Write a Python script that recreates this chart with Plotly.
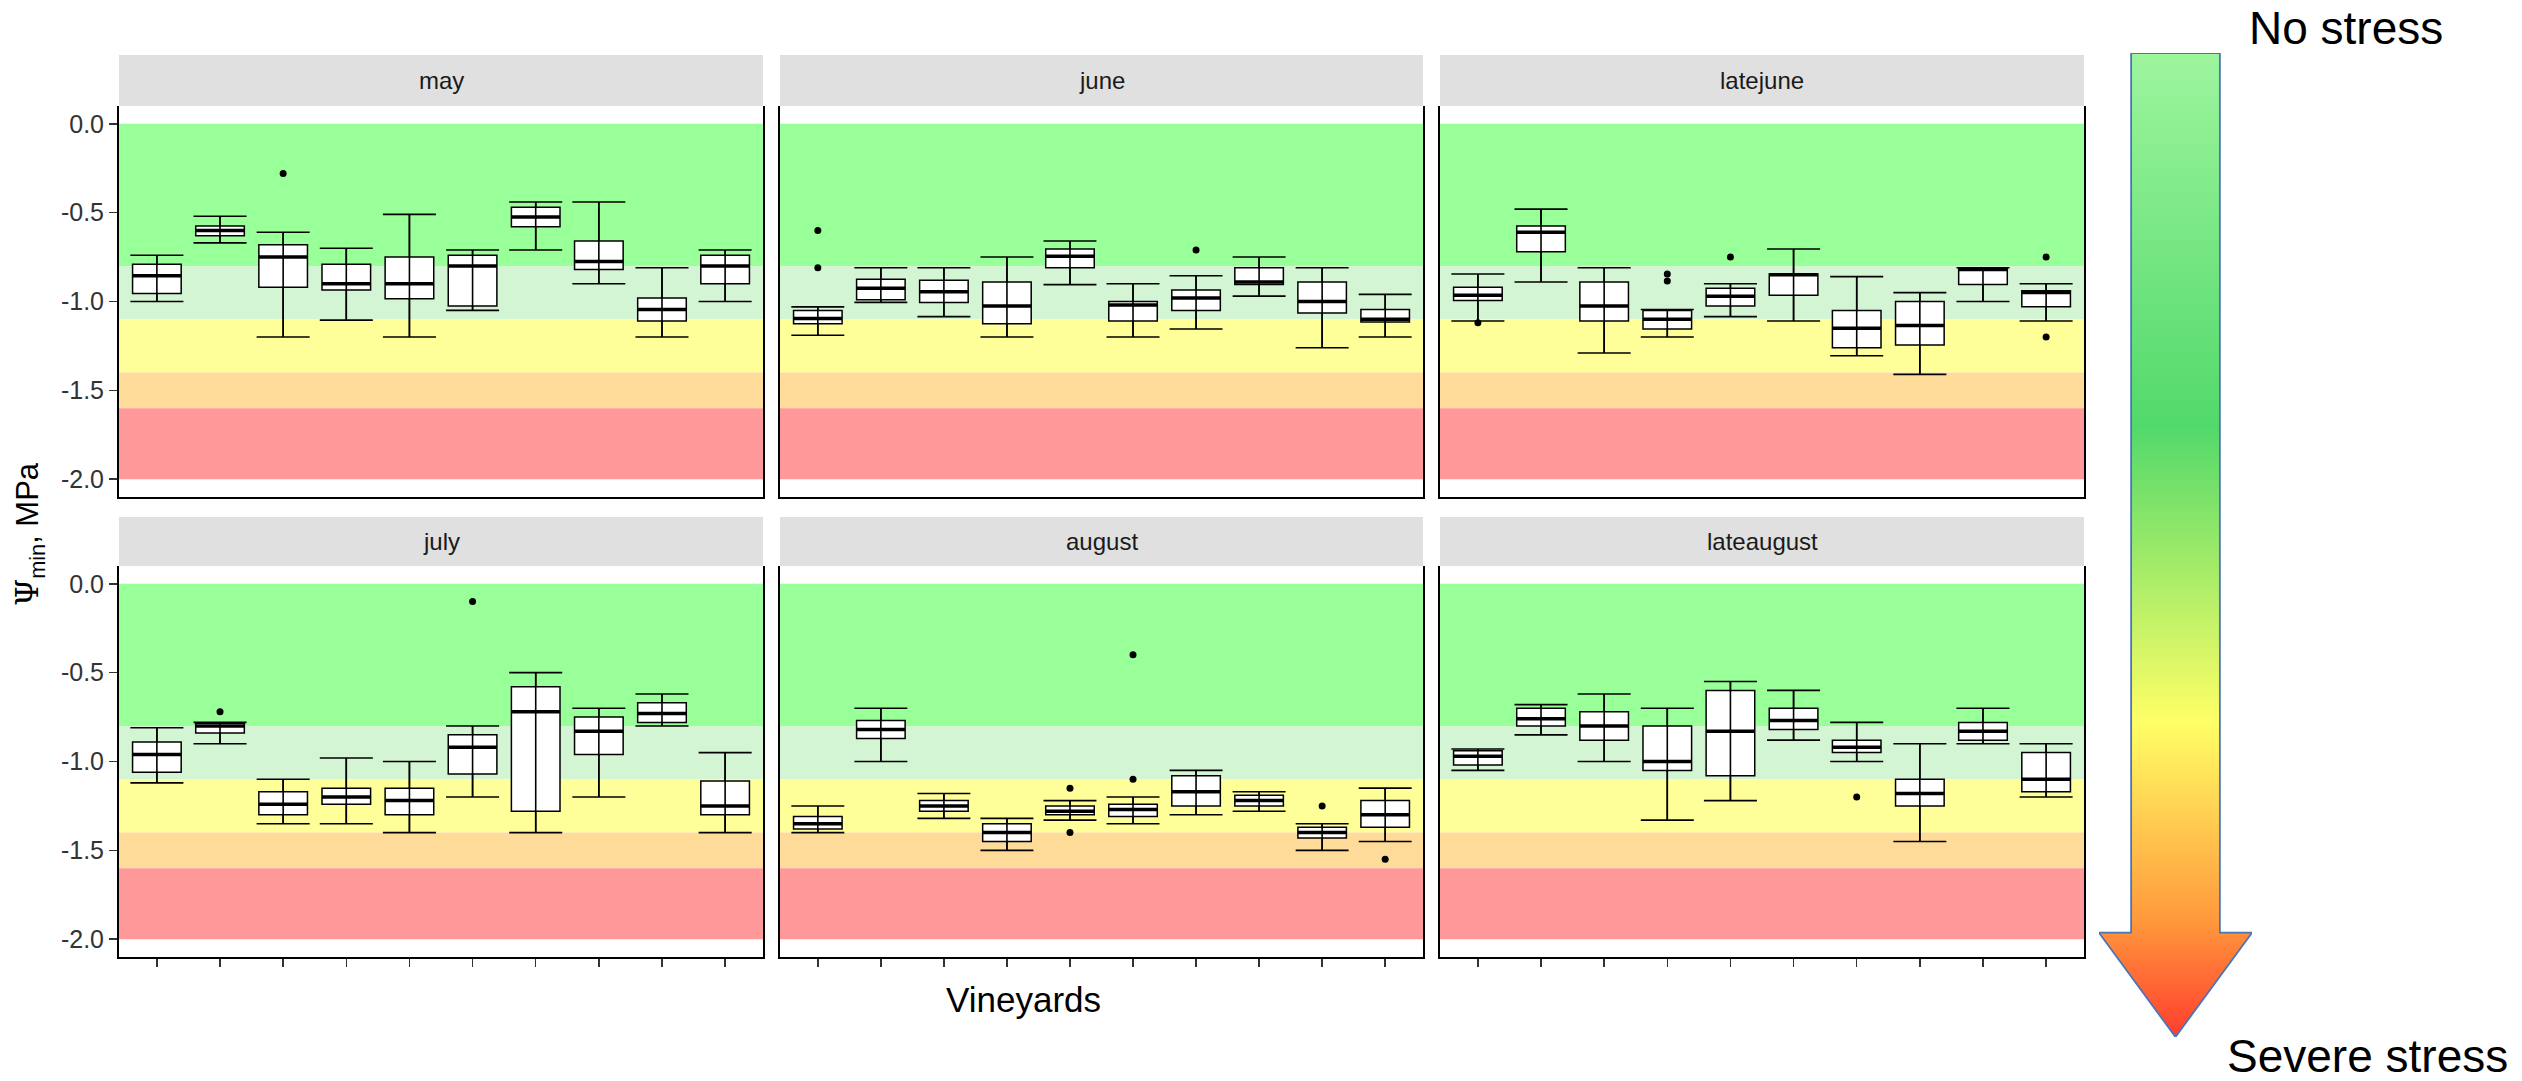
import plotly.graph_objects as go

# ---------------- data ----------------
months = ["may", "june", "latejune", "july", "august", "lateaugust"]
vineyards = list(range(1, 11))

may_upper = [-0.74, -0.52, -0.61, -0.70, -0.51, -0.71, -0.44, -0.44, -0.81, -0.71]
may_q3 = [-0.79, -0.575, -0.68, -0.79, -0.75, -0.74, -0.47, -0.66, -0.98, -0.74]
may_med = [-0.855, -0.60, -0.75, -0.90, -0.90, -0.80, -0.525, -0.775, -1.045, -0.80]
may_q1 = [-0.955, -0.63, -0.92, -0.935, -0.985, -1.025, -0.58, -0.82, -1.11, -0.90]
may_lower = [-1.00, -0.67, -1.20, -1.105, -1.20, -1.05, -0.71, -0.90, -1.20, -1.00]
may_out_x = [3]
may_out_y = [-0.28]

june_upper = [-1.03, -0.81, -0.81, -0.75, -0.66, -0.90, -0.855, -0.75, -0.81, -0.96]
june_q3 = [-1.05, -0.875, -0.88, -0.89, -0.705, -1.00, -0.935, -0.81, -0.89, -1.045]
june_med = [-1.095, -0.925, -0.945, -1.025, -0.745, -1.02, -0.98, -0.89, -1.00, -1.10]
june_q1 = [-1.125, -0.99, -1.005, -1.125, -0.81, -1.11, -1.05, -0.905, -1.065, -1.115]
june_lower = [-1.19, -1.005, -1.085, -1.20, -0.905, -1.20, -1.155, -0.97, -1.26, -1.20]
june_out_x = [1, 1, 7]
june_out_y = [-0.60, -0.81, -0.71]

latejune_upper = [-0.845, -0.48, -0.81, -1.045, -0.90, -0.705, -0.86, -0.95, -0.81, -0.90]
latejune_q3 = [-0.92, -0.575, -0.89, -1.05, -0.925, -0.845, -1.05, -1.00, -0.815, -0.94]
latejune_med = [-0.965, -0.61, -1.025, -1.10, -0.97, -0.85, -1.15, -1.135, -0.82, -0.95]
latejune_q1 = [-0.995, -0.72, -1.11, -1.155, -1.025, -0.965, -1.26, -1.245, -0.905, -1.03]
latejune_lower = [-1.11, -0.89, -1.29, -1.20, -1.085, -1.11, -1.305, -1.41, -1.00, -1.11]
latejune_out_x = [1, 4, 4, 5, 10, 10]
latejune_out_y = [-1.12, -0.845, -0.885, -0.75, -0.75, -1.20]

july_upper = [-0.81, -0.78, -1.10, -0.98, -1.00, -0.80, -0.50, -0.70, -0.62, -0.95]
july_q3 = [-0.89, -0.785, -1.17, -1.15, -1.15, -0.85, -0.58, -0.75, -0.67, -1.11]
july_med = [-0.96, -0.80, -1.24, -1.20, -1.22, -0.92, -0.72, -0.83, -0.73, -1.25]
july_q1 = [-1.06, -0.84, -1.30, -1.24, -1.30, -1.07, -1.28, -0.96, -0.78, -1.30]
july_lower = [-1.12, -0.90, -1.35, -1.35, -1.40, -1.20, -1.40, -1.20, -0.80, -1.40]
july_out_x = [2, 6]
july_out_y = [-0.72, -0.10]

august_upper = [-1.25, -0.70, -1.18, -1.32, -1.22, -1.20, -1.05, -1.17, -1.35, -1.15]
august_q3 = [-1.31, -0.77, -1.22, -1.35, -1.25, -1.24, -1.08, -1.19, -1.37, -1.22]
august_med = [-1.35, -0.82, -1.25, -1.40, -1.28, -1.27, -1.17, -1.22, -1.40, -1.30]
august_q1 = [-1.38, -0.87, -1.28, -1.45, -1.30, -1.31, -1.25, -1.25, -1.43, -1.37]
august_lower = [-1.40, -1.00, -1.32, -1.50, -1.33, -1.35, -1.30, -1.28, -1.50, -1.45]
august_out_x = [5, 5, 6, 6, 9, 10]
august_out_y = [-1.15, -1.40, -0.40, -1.10, -1.25, -1.55]

lateaugust_upper = [-0.93, -0.68, -0.62, -0.70, -0.55, -0.60, -0.78, -0.90, -0.70, -0.90]
lateaugust_q3 = [-0.94, -0.70, -0.72, -0.80, -0.60, -0.70, -0.88, -1.10, -0.78, -0.95]
lateaugust_med = [-0.97, -0.76, -0.80, -1.00, -0.83, -0.77, -0.92, -1.18, -0.83, -1.10]
lateaugust_q1 = [-1.02, -0.80, -0.88, -1.05, -1.08, -0.82, -0.95, -1.25, -0.88, -1.17]
lateaugust_lower = [-1.05, -0.85, -1.00, -1.33, -1.22, -0.88, -1.00, -1.45, -0.90, -1.20]
lateaugust_out_x = [7]
lateaugust_out_y = [-1.20]

# stress bands (MPa)
band_top = [0.0, -0.8, -1.1, -1.4, -1.6]
band_bottom = [-0.8, -1.1, -1.4, -1.6, -2.0]
band_colors = ["#99FF99", "#D4F5D4", "#FFFF99", "#FFDB99", "#FF9999"]

y_tickvals = [0.0, -0.5, -1.0, -1.5, -2.0]
y_ticktext = ["0.0", "-0.5", "-1.0", "-1.5", "-2.0"]

# arrow gradient (bottom -> top)
arrow_colorscale = [[0.0, "#FF3D2E"], [0.12, "#FF9A3C"], [0.32, "#FFFF66"],
                    [0.62, "#52D96B"], [1.0, "#9DF59D"]]

panels = {
    "may": (may_upper, may_q3, may_med, may_q1, may_lower, may_out_x, may_out_y),
    "june": (june_upper, june_q3, june_med, june_q1, june_lower, june_out_x, june_out_y),
    "latejune": (latejune_upper, latejune_q3, latejune_med, latejune_q1, latejune_lower,
                 latejune_out_x, latejune_out_y),
    "july": (july_upper, july_q3, july_med, july_q1, july_lower, july_out_x, july_out_y),
    "august": (august_upper, august_q3, august_med, august_q1, august_lower,
               august_out_x, august_out_y),
    "lateaugust": (lateaugust_upper, lateaugust_q3, lateaugust_med, lateaugust_q1,
                   lateaugust_lower, lateaugust_out_x, lateaugust_out_y),
}

# ---------------- layout geometry ----------------
W, H = 2522, 1081
col_px = [(119, 763), (780, 1423), (1440, 2084)]
row_px = [(106, 497), (566, 957)]        # panel top/bottom in px
strip_px = [(55, 106), (517, 566)]

def px_x(v):
    return v / W

def px_y(v):
    return 1 - v / H

FONT = "Liberation Sans, Arial, sans-serif"
BOX_W = 0.77
CAP_HALF = 0.42

fig = go.Figure()
shapes = []
annotations = []
layout_axes = {}

for i, m in enumerate(months):
    r, c = divmod(i, 3)
    n = i + 1
    xa = "x" if n == 1 else f"x{n}"
    ya = "y" if n == 1 else f"y{n}"
    upper, q3, med, q1, lower, ox, oy = panels[m]

    # bands
    for t, b, col in zip(band_top, band_bottom, band_colors):
        shapes.append(dict(type="rect", xref=f"{xa} domain", yref=ya, x0=0, x1=1,
                           y0=b, y1=t, fillcolor=col, line=dict(width=0), layer="below"))

    # boxes
    fig.add_trace(go.Box(
        x=vineyards, q1=q1, median=med, q3=q3, lowerfence=lower, upperfence=upper,
        width=BOX_W, fillcolor="white", line=dict(color="black", width=1.5),
        whiskerwidth=0, boxpoints=False, showlegend=False, hoverinfo="skip",
        xaxis=xa, yaxis=ya))

    # error bars (whiskers with caps), drawn over the boxes
    ex, ey = [], []
    for xv, u, lo in zip(vineyards, upper, lower):
        ex += [xv - CAP_HALF, xv + CAP_HALF, None, xv, xv, None,
               xv - CAP_HALF, xv + CAP_HALF, None]
        ey += [u, u, None, u, lo, None, lo, lo, None]
    fig.add_trace(go.Scatter(x=ex, y=ey, mode="lines", line=dict(color="black", width=1.6),
                             showlegend=False, hoverinfo="skip", xaxis=xa, yaxis=ya))

    # thick medians
    mx, my = [], []
    for xv, md in zip(vineyards, med):
        mx += [xv - BOX_W / 2, xv + BOX_W / 2, None]
        my += [md, md, None]
    fig.add_trace(go.Scatter(x=mx, y=my, mode="lines", line=dict(color="black", width=3.5),
                             showlegend=False, hoverinfo="skip", xaxis=xa, yaxis=ya))

    # outliers
    fig.add_trace(go.Scatter(x=ox, y=oy, mode="markers",
                             marker=dict(color="black", size=7),
                             showlegend=False, hoverinfo="skip", xaxis=xa, yaxis=ya))

    cx0, cx1 = col_px[c]
    ry0, ry1 = row_px[r]
    bottom = (r == 1)
    left = (c == 0)
    layout_axes["xaxis" if n == 1 else f"xaxis{n}"] = dict(
        domain=[px_x(cx0), px_x(cx1)], anchor=ya, range=[0.4, 10.6],
        showgrid=False, zeroline=False, showline=True, linecolor="black", linewidth=2,
        tickmode="array", tickvals=vineyards,
        ticks="outside" if bottom else "", ticklen=8, tickwidth=1.5, tickcolor="#333333",
        showticklabels=False, fixedrange=True)
    layout_axes["yaxis" if n == 1 else f"yaxis{n}"] = dict(
        domain=[px_y(ry1), px_y(ry0)], anchor=xa, range=[-2.1, 0.1],
        showgrid=False, zeroline=False, showline=True, mirror=True,
        linecolor="black", linewidth=2,
        tickvals=y_tickvals, ticktext=y_ticktext,
        ticks="outside" if left else "", ticklen=8, tickwidth=1.5, tickcolor="#333333",
        showticklabels=left, tickfont=dict(family=FONT, size=25, color="#333333"),
        fixedrange=True)

    # strip
    sy0, sy1 = strip_px[r]
    shapes.append(dict(type="rect", xref="paper", yref="paper",
                       x0=px_x(cx0), x1=px_x(cx1), y0=px_y(sy1), y1=px_y(sy0),
                       fillcolor="#E0E0E0", line=dict(width=0), layer="below"))
    annotations.append(dict(text=m, xref="paper", yref="paper",
                            x=px_x((cx0 + cx1) / 2), y=px_y((sy0 + sy1) / 2),
                            showarrow=False, xanchor="center", yanchor="middle",
                            font=dict(family=FONT, size=24, color="#1A1A1A")))

# ---------------- gradient arrow ----------------
arrow_x = [0.21, 0.79, 0.79, 1.0, 0.5, 0.0, 0.21, 0.21]
arrow_y = [1.0, 1.0, 0.106, 0.106, 0.0, 0.106, 0.106, 1.0]
fig.add_trace(go.Scatter(
    x=arrow_x, y=arrow_y, mode="lines", fill="toself",
    fillgradient=dict(type="vertical", colorscale=arrow_colorscale, start=0, stop=1),
    line=dict(color="#4A76B8", width=1.8),
    showlegend=False, hoverinfo="skip", xaxis="x7", yaxis="y7"))
layout_axes["xaxis7"] = dict(domain=[px_x(2099), px_x(2252)], range=[0, 1],
                             visible=False, anchor="y7", fixedrange=True)
layout_axes["yaxis7"] = dict(domain=[px_y(1037), px_y(53)], range=[0, 1],
                             visible=False, anchor="x7", fixedrange=True)

# ---------------- texts ----------------
annotations += [
    dict(text="No stress", xref="paper", yref="paper", x=px_x(2346), y=px_y(28),
         showarrow=False, xanchor="center", yanchor="middle",
         font=dict(family=FONT, size=46, color="black")),
    dict(text="Severe stress", xref="paper", yref="paper", x=px_x(2367), y=px_y(1056),
         showarrow=False, xanchor="center", yanchor="middle",
         font=dict(family=FONT, size=46, color="black")),
    dict(text="Vineyards", xref="paper", yref="paper", x=px_x(1023), y=px_y(999),
         showarrow=False, xanchor="center", yanchor="middle",
         font=dict(family=FONT, size=35, color="black")),
    dict(text='<span style="font-family:DejaVu Serif">Ψ</span><sub>min</sub>, MPa',
         xref="paper", yref="paper", x=px_x(30), y=px_y(534), textangle=-90,
         showarrow=False, xanchor="center", yanchor="middle",
         font=dict(family=FONT, size=31, color="black")),
]

fig.update_layout(
    width=W, height=H, margin=dict(l=0, r=0, t=0, b=0),
    paper_bgcolor="white", plot_bgcolor="white",
    shapes=shapes, annotations=annotations, showlegend=False,
    **layout_axes)

fig.write_html("out.html", include_plotlyjs=True, full_html=True,
               config={"displayModeBar": False, "staticPlot": True},
               post_script="document.body.style.margin='0';document.body.style.overflow='hidden';")
